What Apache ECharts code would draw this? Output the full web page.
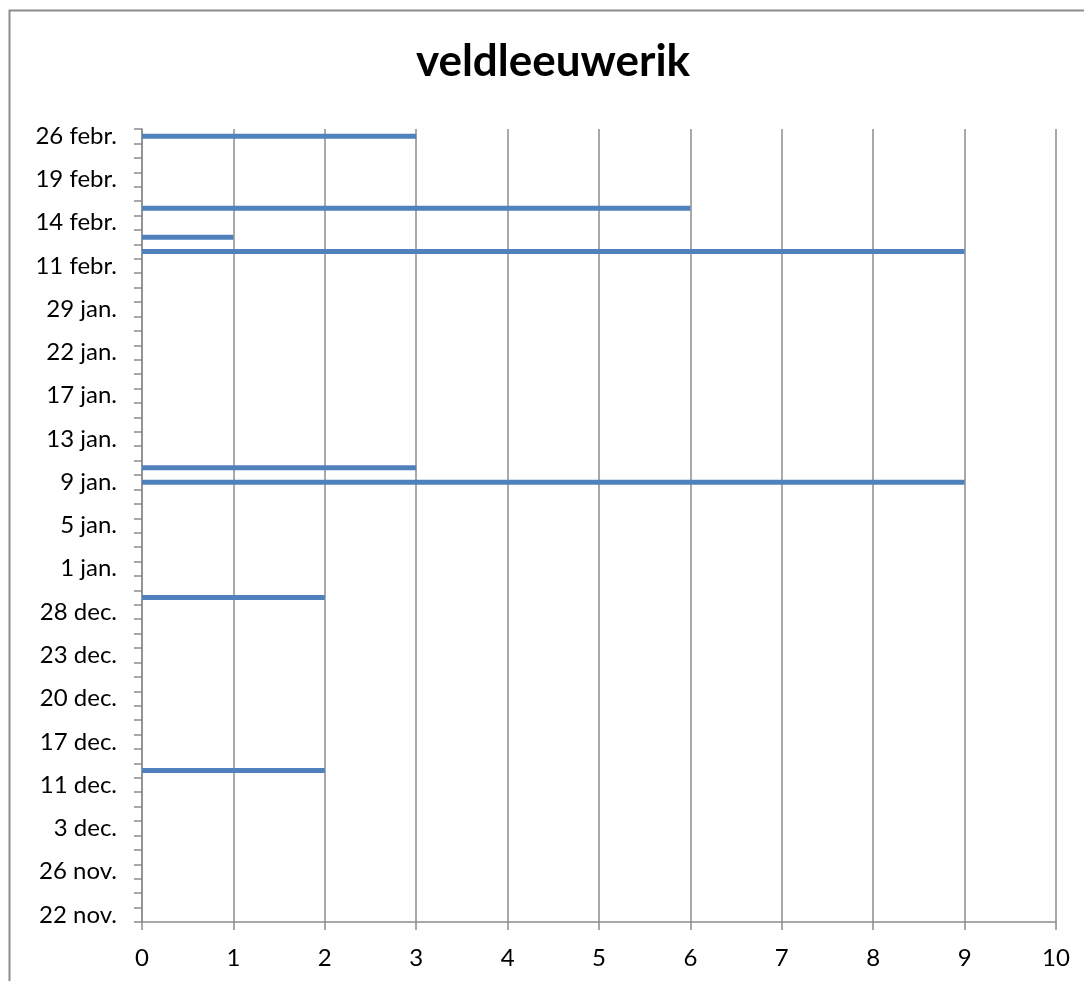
<!DOCTYPE html>
<html lang="nl">
<head>
    <meta charset="UTF-8"/>
    <title>veldleeuwerik</title>
    <style>
        html, body {
            margin: 0;
            padding: 0;
            background: #ffffff;
            overflow: hidden;
        }

        #chart {
            width: 1084px;
            height: 981px;
        }
    </style>
</head>
<body>
<div id="chart"></div>
<script src="https://cdn.jsdelivr.net/npm/echarts@6/dist/echarts.min.js"></script>
<script>
    // Observation dates (bottom to top); only every third one gets a label
    const dates = [
        '22 nov.', '23 nov.', '25 nov.', '26 nov.', '28 nov.', '1 dec.',
        '3 dec.', '6 dec.', '9 dec.', '11 dec.', '13 dec.', '15 dec.',
        '17 dec.', '18 dec.', '19 dec.', '20 dec.', '21 dec.', '22 dec.',
        '23 dec.', '26 dec.', '27 dec.', '28 dec.', '29 dec.', '30 dec.',
        '1 jan.', '3 jan.', '4 jan.', '5 jan.', '7 jan.', '8 jan.',
        '9 jan.', '10 jan.', '12 jan.', '13 jan.', '15 jan.', '16 jan.',
        '17 jan.', '19 jan.', '20 jan.', '22 jan.', '24 jan.', '27 jan.',
        '29 jan.', '1 febr.', '5 febr.', '11 febr.', '12 febr.', '13 febr.',
        '14 febr.', '15 febr.', '18 febr.', '19 febr.', '22 febr.', '25 febr.',
        '26 febr.'
    ];

    // Number of birds counted per date (empty = none seen)
    const counts = [
        null, null, null, null, null, null,
        null, null, null, null, 2, null,
        null, null, null, null, null, null,
        null, null, null, null, 2, null,
        null, null, null, null, null, null,
        9, 3, null, null, null, null,
        null, null, null, null, null, null,
        null, null, null, null, 9, 1,
        null, 6, null, null, null, null,
        3
    ];

    const chart = echarts.init(document.getElementById('chart'));
    const gray = '#8c8c8c';
    const font = 'Lato, "Open Sans", sans-serif';

    const option = {
        backgroundColor: '#ffffff',
        animation: false,
        title: {
            text: 'veldleeuwerik',
            left: 553,
            top: 40,
            padding: 0,
            textAlign: 'center',
            textStyle: {
                fontFamily: font,
                fontSize: 44,
                fontWeight: 'bold',
                color: '#000000'
            }
        },
        graphic: [{
            type: 'rect',
            shape: {x: 9.5, y: 10.5, width: 1100, height: 1000},
            style: {fill: 'none', stroke: gray, lineWidth: 2},
            silent: true
        }],
        grid: {
            left: 142,
            right: 28,
            top: 129,
            bottom: 59
        },
        xAxis: {
            type: 'value',
            min: 0,
            max: 10,
            interval: 1,
            axisLine: {show: true, lineStyle: {color: gray, width: 1.5}},
            axisTick: {show: true, length: 8, lineStyle: {color: gray, width: 1.5}},
            splitLine: {show: true, lineStyle: {color: gray, width: 1.5}},
            axisLabel: {
                margin: 24,
                fontFamily: font,
                fontSize: 24,
                color: '#000000'
            }
        },
        yAxis: {
            type: 'category',
            data: dates,
            axisLine: {show: true, lineStyle: {color: gray, width: 1.5}},
            axisTick: {show: true, interval: 0, length: 8, lineStyle: {color: gray, width: 1.5}},
            splitLine: {show: false},
            axisLabel: {
                interval: 2,
                margin: 25,
                fontFamily: font,
                fontSize: 24,
                color: '#000000'
            }
        },
        series: [{
            name: 'veldleeuwerik',
            type: 'bar',
            data: counts,
            barWidth: 5,
            itemStyle: {color: '#4f81bd'}
        }]
    };

    chart.setOption(option);
</script>
</body>
</html>
